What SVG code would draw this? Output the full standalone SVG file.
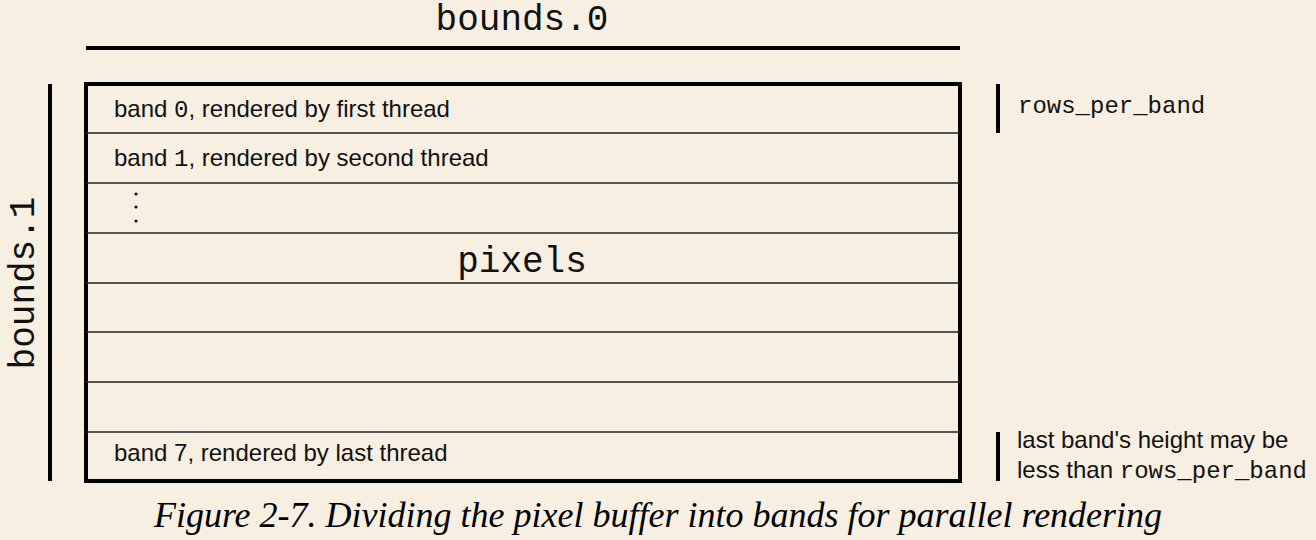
<svg xmlns="http://www.w3.org/2000/svg" width="1316" height="540" viewBox="0 0 1316 540">
<style>
.mono{font-family:"Liberation Mono","DejaVu Sans Mono",monospace;fill:#111}
.sans{font-family:"Liberation Sans",Arial,sans-serif;fill:#111;font-size:24px}
.thin{stroke:#222;stroke-width:1.6;fill:none}
.thick{stroke:#000;stroke-width:4;fill:none}
</style>
<rect width="1316" height="540" fill="#f8efe3"/>
<g id="dimensions">
<line class="thick" x1="86" y1="48" x2="960" y2="48"/>
<text class="mono" x="522" y="30" font-size="36" text-anchor="middle">bounds.0</text>
<line class="thick" x1="50" y1="84" x2="50" y2="481"/>
<text class="mono" font-size="36" text-anchor="middle" transform="translate(34,283) rotate(-90)">bounds.1</text>
</g>
<g id="buffer">
<rect class="thick" x="86" y="84" width="874" height="397"/>
<line class="thin" x1="86" y1="133" x2="960" y2="133"/>
<line class="thin" x1="86" y1="183" x2="960" y2="183"/>
<line class="thin" x1="86" y1="233" x2="960" y2="233"/>
<line class="thin" x1="86" y1="283" x2="960" y2="283"/>
<line class="thin" x1="86" y1="332" x2="960" y2="332"/>
<line class="thin" x1="86" y1="382" x2="960" y2="382"/>
<line class="thin" x1="86" y1="432" x2="960" y2="432"/>
<text class="sans" x="114" y="117">band <tspan class="mono">0</tspan>, rendered by first thread</text>
<text class="sans" x="114" y="166">band <tspan class="mono">1</tspan>, rendered by second thread</text>
<circle cx="136" cy="194" r="1.6" fill="#111"/>
<circle cx="136" cy="207" r="1.6" fill="#111"/>
<circle cx="136" cy="221" r="1.6" fill="#111"/>
<text class="mono" x="522" y="272" font-size="36" text-anchor="middle">pixels</text>
<text class="sans" x="114" y="461">band 7, rendered by last thread</text>
</g>
<g id="notes">
<line class="thick" x1="998" y1="84" x2="998" y2="133"/>
<text class="mono" x="1018" y="113" font-size="24">rows_per_band</text>
<line class="thick" x1="998" y1="432" x2="998" y2="481"/>
<text class="sans" x="1017" y="448">last band's height may be</text>
<text class="sans" x="1017" y="478">less than <tspan class="mono">rows_per_band</tspan></text>
</g>
<text x="658" y="527" font-family="'Liberation Serif','Times New Roman',serif" font-style="italic" font-size="36" text-anchor="middle" fill="#000">Figure 2-7. Dividing the pixel buffer into bands for parallel rendering</text>
</svg>
